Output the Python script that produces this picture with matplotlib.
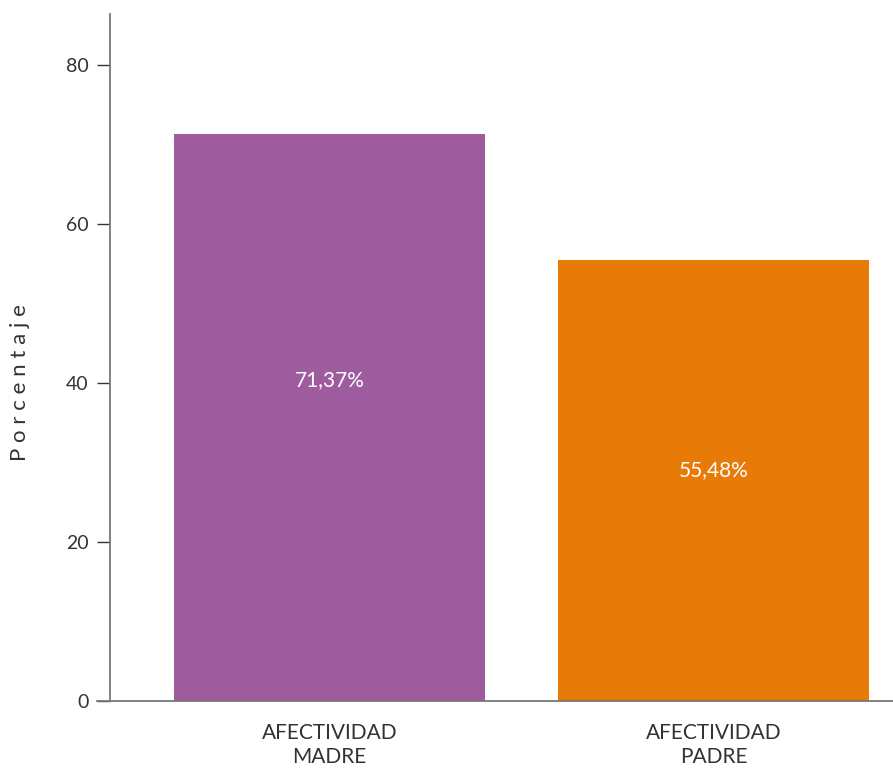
import matplotlib
matplotlib.use("Agg")
import matplotlib.pyplot as plt

# Datos del gráfico
categorias = ["AFECTIVIDAD\nMADRE", "AFECTIVIDAD\nPADRE"]
valores = [71.37, 55.48]
etiquetas = ["71,37%", "55,48%"]
pos_etiquetas = [40.4, 29.1]
colores = ["#9E5C9E", "#E87A08"]
ticks_y = [0, 20, 40, 60, 80]

plt.rcParams["font.family"] = ["Lato", "DejaVu Sans"]

fig = plt.figure(figsize=(8.93, 7.69), dpi=100)
ax = fig.add_axes([110 / 893, 68 / 769, 783 / 893, 687 / 769])

x = range(len(categorias))
barras = ax.bar(x, valores, width=0.81, color=colores, zorder=2)

# Etiquetas dentro de las barras
for b, txt, yy in zip(barras, etiquetas, pos_etiquetas):
    ax.text(b.get_x() + b.get_width() / 2, yy, txt,
            ha="center", va="center", color="white", fontsize=15)

ax.set_xlim(-0.572, 1.467)
ax.set_ylim(0, 86.4)
ax.set_yticks(ticks_y)
ax.set_xticks(list(x))
ax.set_xticklabels(categorias, fontsize=15, color="#333333", linespacing=1.25)
ax.tick_params(axis="x", length=0, pad=16)
ax.tick_params(axis="y", length=9.5, width=1, color="#333333", labelsize=14,
               labelcolor="#333333", pad=6)

for s in ["top", "right"]:
    ax.spines[s].set_visible(False)
ax.spines["left"].set_color("#777777")
ax.spines["bottom"].set_color("#777777")
ax.spines["left"].set_linewidth(1.3)
ax.spines["bottom"].set_linewidth(1.3)
ax.spines["bottom"].set_bounds(-0.572 - 13 / 384, 1.467)
ax.spines["bottom"].set_zorder(3)

fig.text(20 / 893, 1 - 383 / 769, "P o r c e n t a j e", rotation=90,
         ha="center", va="center", fontsize=16, color="#333333")

fig.savefig("out.png", dpi=100)
